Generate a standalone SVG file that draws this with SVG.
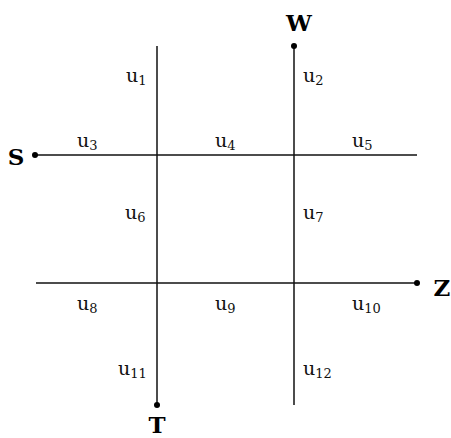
<svg xmlns="http://www.w3.org/2000/svg" width="451" height="438" viewBox="0 0 451 438">
<style>
.ln{stroke:#111;stroke-width:1.5;fill:none}
.dot{fill:#000}
.u{font-family:"DejaVu Serif","Liberation Serif",serif;font-size:19px;fill:#111}
.sub{font-size:13px}
.nm{font-family:"DejaVu Serif","Liberation Serif",serif;font-size:23px;font-weight:bold;fill:#000}
</style>
<rect width="451" height="438" fill="#fff"/>
<g id="connectors">
<line class="ln" x1="157" y1="46" x2="157" y2="405"/>
<line class="ln" x1="294" y1="46" x2="294" y2="405"/>
<line class="ln" x1="35" y1="155" x2="417" y2="155"/>
<line class="ln" x1="36" y1="283" x2="417" y2="283"/>
</g>
<g id="node-W"><circle class="dot" cx="294" cy="46" r="3"/><text class="nm" x="299" y="31" text-anchor="middle">W</text></g>
<g id="node-S"><circle class="dot" cx="35" cy="155" r="3"/><text class="nm" x="16" y="165" text-anchor="middle">S</text></g>
<g id="node-Z"><circle class="dot" cx="417" cy="283" r="3"/><text class="nm" x="442" y="296" text-anchor="middle">Z</text></g>
<g id="node-T"><circle class="dot" cx="157" cy="405" r="3"/><text class="nm" x="157" y="433" text-anchor="middle">T</text></g>
<g id="labels">
<text class="u" x="126" y="82">u<tspan class="sub" dy="3">1</tspan></text>
<text class="u" x="303" y="82">u<tspan class="sub" dy="3">2</tspan></text>
<text class="u" x="77" y="147">u<tspan class="sub" dy="3">3</tspan></text>
<text class="u" x="215" y="147">u<tspan class="sub" dy="3">4</tspan></text>
<text class="u" x="352" y="147">u<tspan class="sub" dy="3">5</tspan></text>
<text class="u" x="125" y="219">u<tspan class="sub" dy="3">6</tspan></text>
<text class="u" x="303" y="219">u<tspan class="sub" dy="3">7</tspan></text>
<text class="u" x="77" y="310">u<tspan class="sub" dy="3">8</tspan></text>
<text class="u" x="215" y="310">u<tspan class="sub" dy="3">9</tspan></text>
<text class="u" x="352" y="310">u<tspan class="sub" dy="3">10</tspan></text>
<text class="u" x="118" y="375">u<tspan class="sub" dy="3">11</tspan></text>
<text class="u" x="303" y="375">u<tspan class="sub" dy="3">12</tspan></text>
</g>
</svg>
